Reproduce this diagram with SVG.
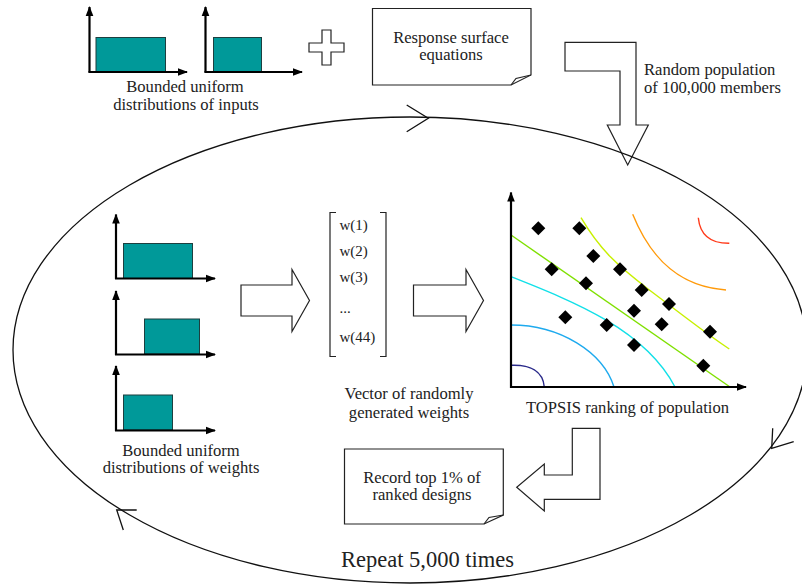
<svg xmlns="http://www.w3.org/2000/svg" width="802" height="584" viewBox="0 0 802 584" font-family="'Liberation Serif', 'Times New Roman', serif">
  <defs>
    <marker id="axisHead" markerUnits="userSpaceOnUse" markerWidth="10" markerHeight="10" viewBox="0 0 10 10" refX="9" refY="5" orient="auto">
      <path d="M0,1.2 L10,5 L0,8.8 Z" fill="#000"/>
    </marker>
    <path id="diamond" d="M0,-7 L7,0 L0,7 L-7,0 Z"/>
  </defs>
  <style>
    .lbl { font-family: 'Liberation Serif', 'Times New Roman', serif; font-size: 16.6px; text-anchor: middle; fill: #222; }
    .left { text-anchor: start; }
    .vec { font-family: 'Liberation Serif', 'Times New Roman', serif; font-size: 15px; fill: #222; }
    .big { font-family: 'Liberation Serif', 'Times New Roman', serif; font-size: 22.5px; text-anchor: middle; fill: #222; }
    .axis { stroke: #000; stroke-width: 2.2; fill: none; marker-end: url(#axisHead); }
    .bar { fill: #009999; stroke: #1d3f3f; stroke-width: 1; }
    .outline { fill: #fff; stroke: #222; stroke-width: 1.2; stroke-linejoin: miter; }
    .thin { fill: none; stroke: #222; stroke-width: 1.2; }
    .cycle { fill: none; stroke: #111; stroke-width: 1.3; }
    .contour { fill: none; stroke-width: 1.4; }
  </style>

  <rect width="802" height="584" fill="#fff"/>

  <!-- input distributions -->
  <g id="input-distributions">
    <rect class="bar" x="96" y="37.5" width="69.5" height="34.5"/>
    <line class="axis" x1="89.5" y1="72.5" x2="89.5" y2="7"/>
    <line class="axis" x1="88.5" y1="72" x2="187" y2="72"/>
    <rect class="bar" x="213.5" y="37.5" width="48" height="34.5"/>
    <line class="axis" x1="205.5" y1="72.5" x2="205.5" y2="7"/>
    <line class="axis" x1="204.5" y1="72" x2="302" y2="72"/>
    <text class="lbl" x="185" y="91.5">Bounded uniform</text>
    <text class="lbl" x="186" y="109.5">distributions of inputs</text>
  </g>

  <!-- plus sign -->
  <g id="plus">
    <polygon class="outline" points="322,30 331,30 331,43 344,43 344,52 331,52 331,65 322,65 322,52 309,52 309,43 322,43"/>
  </g>

  <!-- response surface note -->
  <g id="response-surface">
    <path class="outline" d="M372.5,8.5 H531 V75 L511,85 H372.5 Z"/>
    <path class="thin" d="M511,85 L516,78.5 L531,75"/>
    <text class="lbl" x="451" y="42.5">Response surface</text>
    <text class="lbl" x="451" y="60">equations</text>
  </g>

  <!-- population label -->
  <g id="population-label">
    <text class="lbl left" x="644" y="74.5">Random population</text>
    <text class="lbl left" x="644" y="93">of 100,000 members</text>
  </g>

  <!-- weight distributions -->
  <g id="weight-distributions">
    <rect class="bar" x="123.5" y="243.5" width="69" height="35"/>
    <line class="axis" x1="116" y1="279" x2="116" y2="214.5"/>
    <line class="axis" x1="115" y1="278.5" x2="215" y2="278.5"/>
    <rect class="bar" x="144.5" y="319" width="55" height="35"/>
    <line class="axis" x1="116" y1="355" x2="116" y2="291"/>
    <line class="axis" x1="115" y1="354.5" x2="215" y2="354.5"/>
    <rect class="bar" x="123.5" y="395" width="49" height="35"/>
    <line class="axis" x1="116" y1="431" x2="116" y2="366"/>
    <line class="axis" x1="115" y1="430.5" x2="215" y2="430.5"/>
    <text class="lbl" x="181" y="455.5">Bounded uniform</text>
    <text class="lbl" x="181" y="473">distributions of weights</text>
  </g>

  <!-- weight vector -->
  <g id="weight-vector">
    <path class="thin" d="M336,212.5 H330 V356.5 H336"/>
    <path class="thin" d="M380,212.5 H386 V356.5 H380"/>
    <text class="vec" x="339.5" y="230">w(1)</text>
    <text class="vec" x="339.5" y="255.5">w(2)</text>
    <text class="vec" x="339.5" y="281.5">w(3)</text>
    <text class="vec" x="339.5" y="313">...</text>
    <text class="vec" x="339.5" y="341.5">w(44)</text>
    <text class="lbl" x="409" y="399">Vector of randomly</text>
    <text class="lbl" x="409" y="417.5">generated weights</text>
  </g>

  <!-- TOPSIS ranking plot -->
  <g id="topsis-ranking">
    <path class="contour" stroke="#2a2a8a" d="M511,365.3 C530,364.5 543,371 544.3,387"/>
    <path class="contour" stroke="#1eaaee" d="M511,325 C560,325 603,352 614,387"/>
    <path class="contour" stroke="#11e0e8" d="M511,276.7 C575,302 645,330 675,387"/>
    <path class="contour" stroke="#7fe000" d="M511,235 L730,387"/>
    <path class="contour" stroke="#c8f000" d="M581,217.7 C600,250 618,266 648,289 C680,313 705,333 729.3,349"/>
    <path class="contour" stroke="#ff9a0a" d="M632.7,214.3 C652,262 682,287 726,290"/>
    <path class="contour" stroke="#ff3a1a" d="M698.3,217.7 C700,235 711,243.5 729.3,243.3"/>
    <line class="axis" x1="511" y1="388" x2="511" y2="192.5"/>
    <line class="axis" x1="510" y1="387" x2="746" y2="387"/>
    <g fill="#000">
      <use href="#diamond" x="538.3" y="228.3"/>
      <use href="#diamond" x="579.3" y="228.3"/>
      <use href="#diamond" x="593.3" y="256"/>
      <use href="#diamond" x="551.7" y="269.3"/>
      <use href="#diamond" x="620" y="269.3"/>
      <use href="#diamond" x="586" y="283.3"/>
      <use href="#diamond" x="641.7" y="290"/>
      <use href="#diamond" x="669" y="304"/>
      <use href="#diamond" x="634" y="310.7"/>
      <use href="#diamond" x="565.3" y="317.3"/>
      <use href="#diamond" x="606.7" y="325"/>
      <use href="#diamond" x="661.7" y="324.3"/>
      <use href="#diamond" x="710" y="331.7"/>
      <use href="#diamond" x="634" y="345"/>
      <use href="#diamond" x="703.3" y="365.7"/>
    </g>
    <text class="lbl" x="627.5" y="412.5">TOPSIS ranking of population</text>
  </g>

  <!-- record note -->
  <g id="record-top">
    <path class="outline" d="M344.5,449 H503.3 V515 L484,524 H344.5 Z"/>
    <path class="thin" d="M484,524 L489,517.5 L503.3,515"/>
    <text class="lbl" x="422" y="482.5">Record top 1% of</text>
    <text class="lbl" x="422" y="500">ranked designs</text>
  </g>

  <!-- loop label -->
  <g id="repeat-label">
    <text class="big" x="427.5" y="567">Repeat 5,000 times</text>
  </g>

  <!-- connectors: block arrows and the repeat loop -->
  <g id="connectors">
    <polygon class="outline" points="565,42.3 636,42.3 636,125 648.3,125 627.7,165 607.3,125 620,125 620,71 565,71"/>
    <polygon class="outline" points="241,285 292,285 292,269.5 309.5,300.5 292,331.5 292,316 241,316"/>
    <polygon class="outline" points="413.5,285 466,285 466,269.5 483.5,300.5 466,331.5 466,316 413.5,316"/>
    <polygon class="outline" points="572.3,428.3 600,428.3 600,499.3 544.3,499.3 544.3,511 516.7,487.3 544.3,464 544.3,475 572.3,475"/>
    <ellipse class="cycle" cx="410" cy="350" rx="397" ry="233"/>
    <polyline class="cycle" points="406.7,105 428.3,118.3 406.7,131.7"/>
    <polyline class="cycle" points="772.7,428.3 771.7,448.3 793.7,441.7"/>
    <polyline class="cycle" points="136.7,510 116.7,510 123.3,530"/>
  </g>
</svg>
